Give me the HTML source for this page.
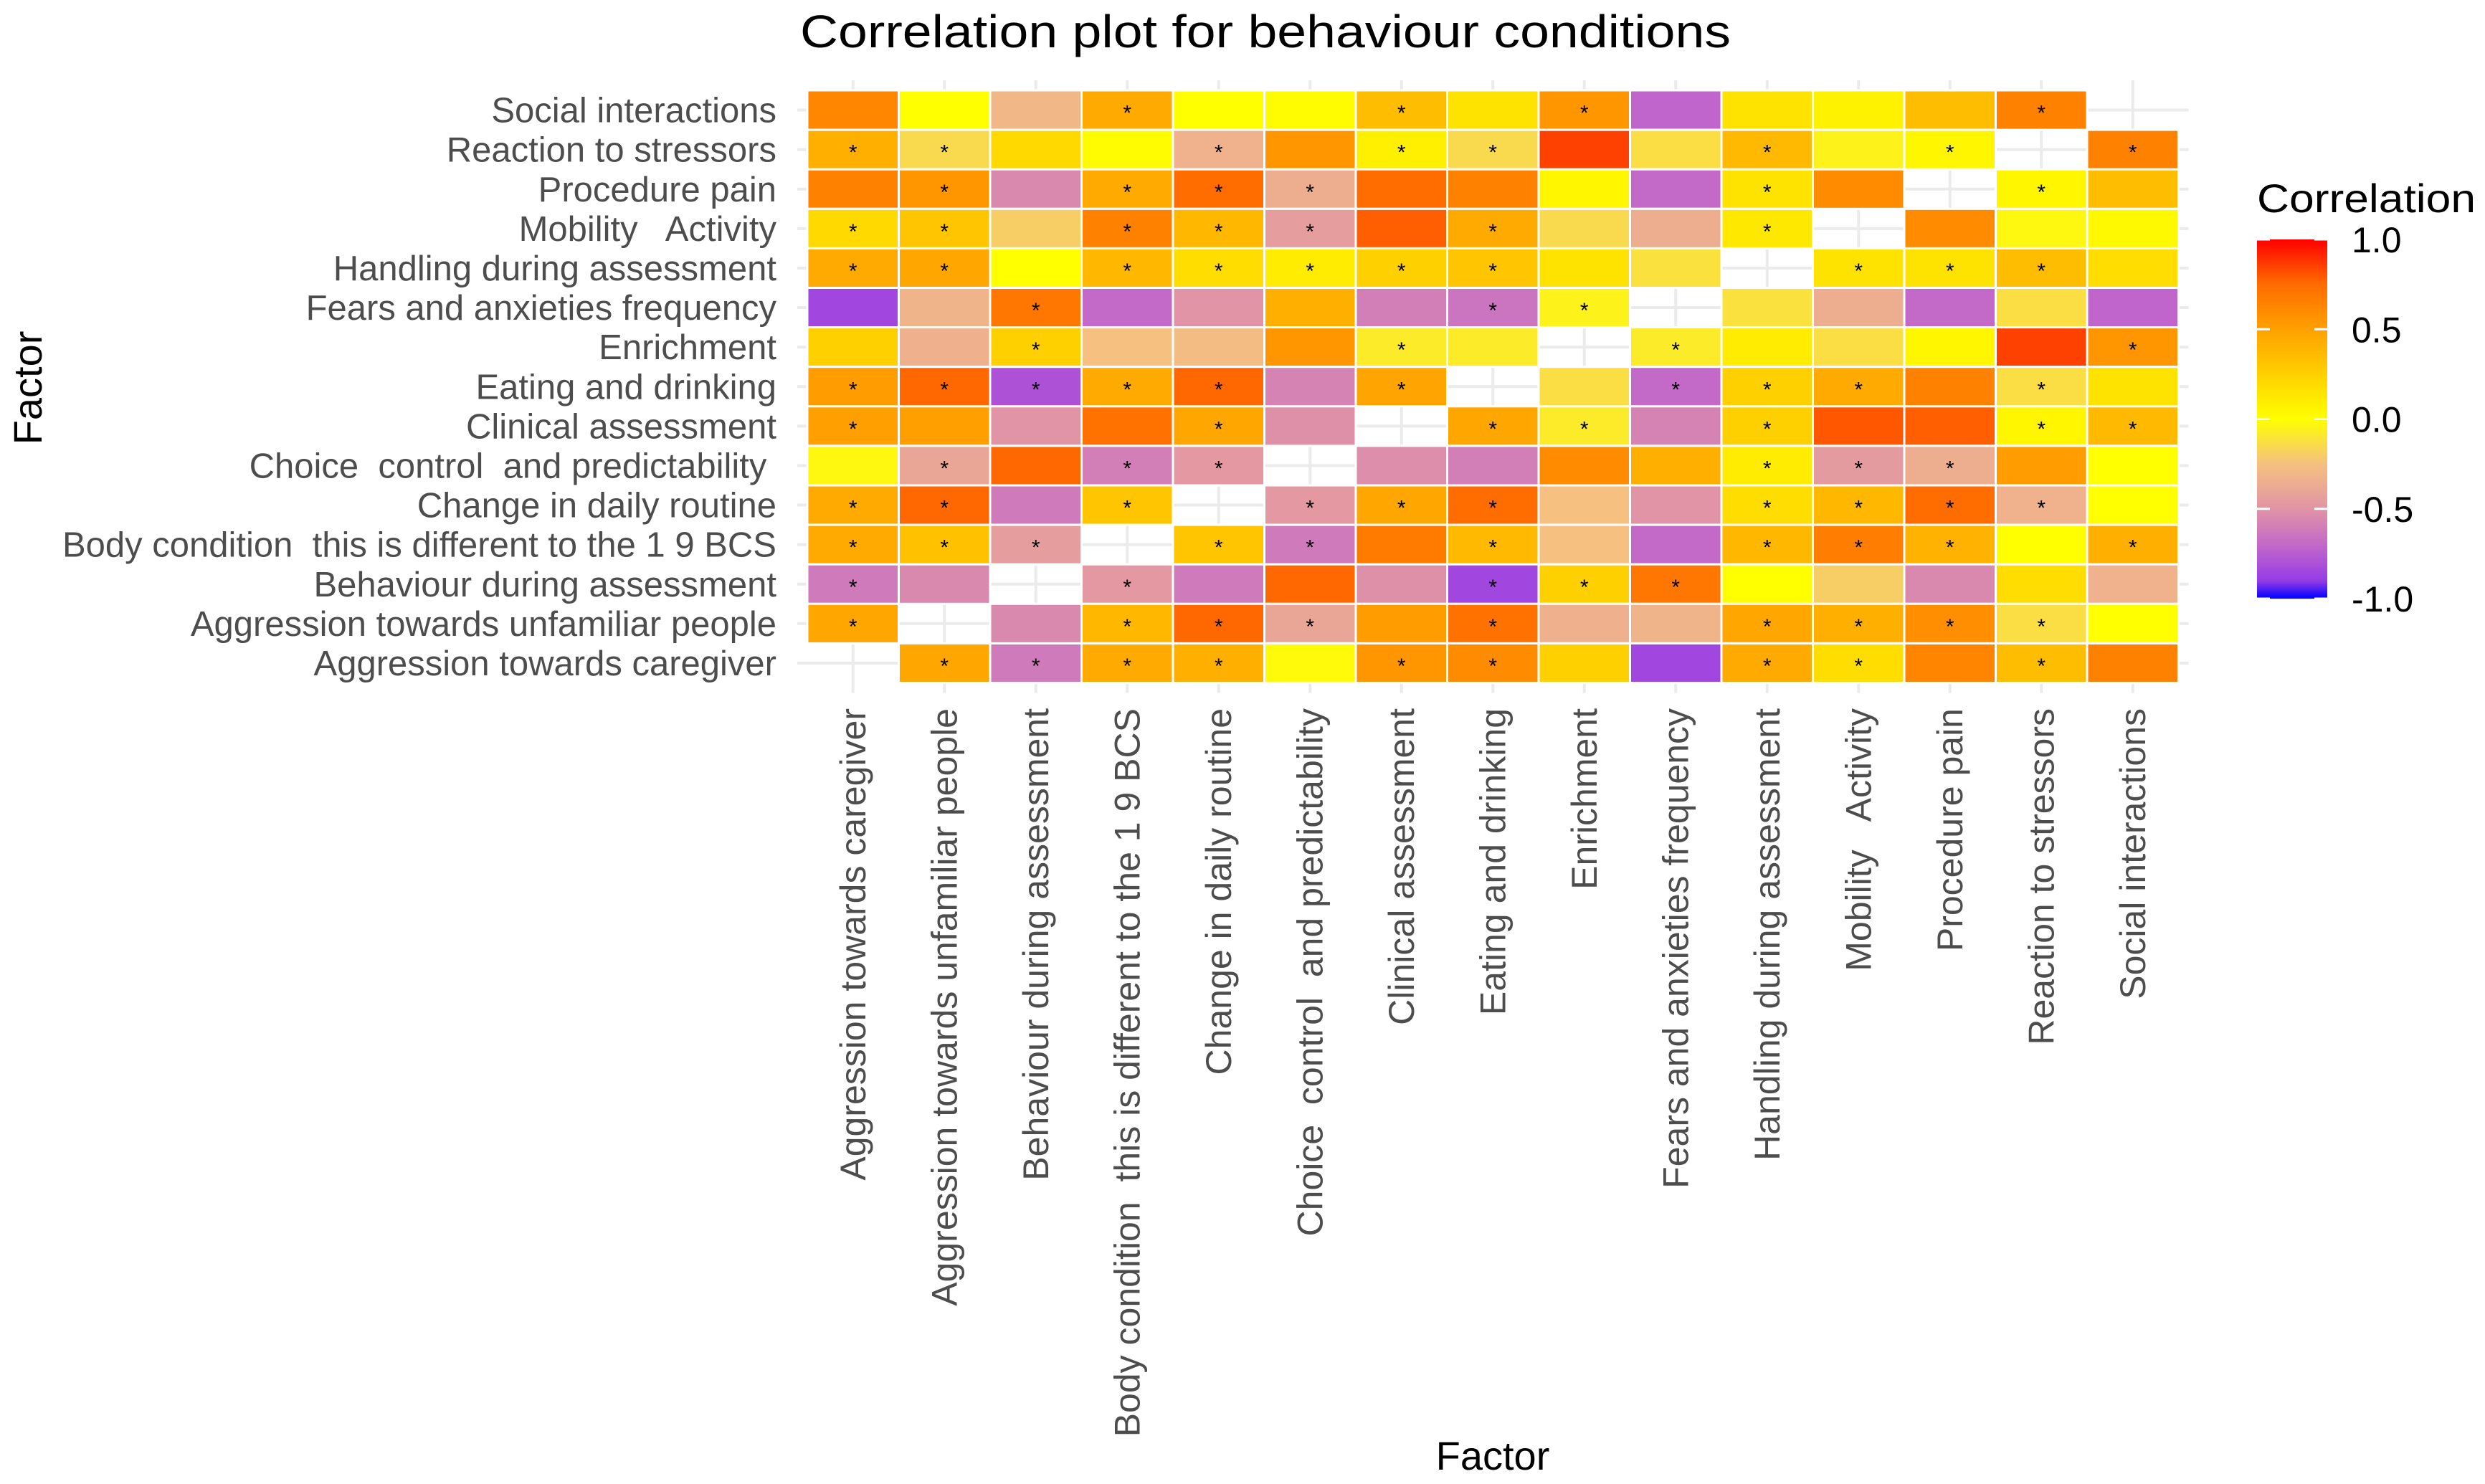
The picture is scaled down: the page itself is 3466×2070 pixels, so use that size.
<!DOCTYPE html>
<html><head><meta charset="utf-8"><style>
html,body{margin:0;padding:0;background:#fff;}
svg{display:block;font-family:"Liberation Sans",sans-serif;}
.pre{white-space:pre;}
</style></head><body>
<svg id="chart" width="3466" height="2070" viewBox="0 0 3466 2070" xmlns="http://www.w3.org/2000/svg">
<rect width="3466" height="2070" fill="#fff"/>
<text x="1116" y="66" font-size="64" fill="#000" textLength="1298" lengthAdjust="spacingAndGlyphs">Correlation plot for behaviour conditions</text>
<g id="grid"></g><g id="cells"></g><g id="ylabels"></g><g id="xlabels"></g>
<text x="2082" y="2050" font-size="56" text-anchor="middle" fill="#000">Factor</text>
<text transform="translate(58,541) rotate(-90)" font-size="56" text-anchor="middle" fill="#000">Factor</text>
<g>
<defs><linearGradient id="lg" x1="0" y1="1" x2="0" y2="0">
<stop offset="0" stop-color="#0000ff"/><stop offset="0.05" stop-color="#963ce6"/><stop offset="0.15" stop-color="#c369c8"/><stop offset="0.25" stop-color="#e194a5"/><stop offset="0.375" stop-color="#f5c080"/><stop offset="0.5" stop-color="#ffff00"/><stop offset="0.625" stop-color="#ffd000"/><stop offset="0.75" stop-color="#ffa000"/><stop offset="0.875" stop-color="#ff6c00"/><stop offset="1" stop-color="#ff0000"/>
</linearGradient></defs>
<text x="3148" y="296" font-size="56" fill="#000" textLength="305" lengthAdjust="spacingAndGlyphs">Correlation</text>
<rect x="3148" y="334" width="98" height="501" fill="url(#lg)"/>
<g id="legticks"></g>
</g>
</svg>
<script>
const rowLabels = ["Social interactions","Reaction to stressors","Procedure pain","Mobility   Activity","Handling during assessment","Fears and anxieties frequency","Enrichment","Eating and drinking","Clinical assessment","Choice  control  and predictability ","Change in daily routine","Body condition  this is different to the 1 9 BCS","Behaviour during assessment","Aggression towards unfamiliar people","Aggression towards caregiver"];
const colLabels = ["Aggression towards caregiver","Aggression towards unfamiliar people","Behaviour during assessment","Body condition  this is different to the 1 9 BCS","Change in daily routine","Choice  control  and predictability","Clinical assessment","Eating and drinking","Enrichment","Fears and anxieties frequency","Handling during assessment","Mobility   Activity","Procedure pain","Reaction to stressors","Social interactions"];
const rowSocial   = [0.62,0.0,-0.3,0.45,0.0,0.02,0.35,0.15,0.55,-0.72,0.15,0.07,0.35,0.65,null];
const rowReaction = [0.42,-0.15,0.2,0.02,-0.33,0.55,0.08,-0.15,0.85,-0.13,0.37,-0.05,0.05,null,0.65];
const rowPain     = [0.65,0.55,-0.55,0.45,0.75,-0.35,0.75,0.65,0.05,-0.7,0.15,0.6,null,0.05,0.35];
const rowMobility = [0.2,0.3,-0.2,0.65,0.38,-0.45,0.78,0.45,-0.15,-0.35,0.12,null,0.6,-0.03,0.03];
const rowHandling = [0.45,0.47,0.0,0.38,0.18,0.1,0.25,0.3,0.15,-0.12,null,0.15,0.15,0.35,0.18];
const rowFears    = [-0.85,-0.32,0.7,-0.7,-0.5,0.42,-0.6,-0.65,-0.05,null,-0.12,-0.35,-0.7,-0.13,-0.72];
const rowEnrich   = [0.25,-0.34,0.25,-0.25,-0.27,0.55,-0.08,-0.08,null,-0.08,0.1,-0.13,0.05,0.85,0.55];
const rowEating   = [0.52,0.76,-0.8,0.45,0.76,-0.58,0.48,null,-0.13,-0.7,0.25,0.45,0.65,-0.13,0.15];
const rowClinical = [0.5,0.5,-0.5,0.72,0.47,-0.52,null,0.47,-0.08,-0.58,0.25,0.8,0.78,0.05,0.37];
const rowChoice   = [-0.03,-0.4,0.76,-0.6,-0.48,null,-0.53,-0.6,0.6,0.42,0.1,-0.46,-0.35,0.52,0.0];
const rowChange   = [0.45,0.76,-0.62,0.3,null,-0.48,0.47,0.75,-0.25,-0.5,0.18,0.38,0.75,-0.33,0.0];
const rowBody     = [0.45,0.33,-0.45,null,0.3,-0.62,0.68,0.37,-0.25,-0.7,0.38,0.67,0.4,0.0,0.42];
const rowBehav    = [-0.62,-0.55,null,-0.48,-0.62,0.76,-0.52,-0.85,0.25,0.7,0.0,-0.2,-0.55,0.18,-0.33];
const rowAggUnf   = [0.47,null,-0.55,0.38,0.76,-0.4,0.52,0.72,-0.34,-0.32,0.47,0.42,0.58,-0.13,0.0];
const rowAggCare  = [null,0.47,-0.62,0.45,0.42,-0.02,0.55,0.6,0.25,-0.85,0.45,0.18,0.63,0.35,0.65];
const values = [rowSocial,rowReaction,rowPain,rowMobility,rowHandling,rowFears,rowEnrich,rowEating,rowClinical,rowChoice,rowChange,rowBody,rowBehav,rowAggUnf,rowAggCare];
const starSocial   = [0,0,0,1,0,0,1,0,1,0,0,0,0,1,0];
const starReaction = [1,1,0,0,1,0,1,1,0,0,1,0,1,0,1];
const starPain     = [0,1,0,1,1,1,0,0,0,0,1,0,0,1,0];
const starMobility = [1,1,0,1,1,1,0,1,0,0,1,0,0,0,0];
const starHandling = [1,1,0,1,1,1,1,1,0,0,0,1,1,1,0];
const starFears    = [0,0,1,0,0,0,0,1,1,0,0,0,0,0,0];
const starEnrich   = [0,0,1,0,0,0,1,0,0,1,0,0,0,0,1];
const starEating   = [1,1,1,1,1,0,1,0,0,1,1,1,0,1,0];
const starClinical = [1,0,0,0,1,0,0,1,1,0,1,0,0,1,1];
const starChoice   = [0,1,0,1,1,0,0,0,0,0,1,1,1,0,0];
const starChange   = [1,1,0,1,0,1,1,1,0,0,1,1,1,1,0];
const starBody     = [1,1,1,0,1,1,0,1,0,0,1,1,1,0,1];
const starBehav    = [1,0,0,1,0,0,0,1,1,1,0,0,0,0,0];
const starAggUnf   = [1,0,0,1,1,1,0,1,0,0,1,1,1,1,0];
const starAggCare  = [0,1,1,1,1,0,1,1,0,0,1,1,0,1,0];
const stars = [starSocial,starReaction,starPain,starMobility,starHandling,starFears,starEnrich,starEating,starClinical,starChoice,starChange,starBody,starBehav,starAggUnf,starAggCare];
const legendTicks = [1.0,0.5,0.0,-0.5,-1.0];
const legendTickLabels = ["1.0","0.5","0.0","-0.5","-1.0"];

const NS="http://www.w3.org/2000/svg";
const X0=1126, CW=127.5, Y0=126, RH=55.1;
function xPos(j){return X0+j*CW;}
function yPos(i){return Y0+i*RH;}
function legY(v){return 334+(1-v)/2*501;}
const stops=[[-1,[0,0,255]],[-0.9,[150,60,230]],[-0.7,[195,105,200]],[-0.5,[225,148,165]],[-0.25,[245,192,128]],[0,[255,255,0]],[0.25,[255,208,0]],[0.5,[255,160,0]],[0.75,[255,108,0]],[1,[255,0,0]]];
function colorOf(v){
  for(let k=0;k<stops.length-1;k++){
    const a=stops[k],b=stops[k+1];
    if(v<=b[0]){const t=(v-a[0])/(b[0]-a[0]);
      const c=a[1].map((x,i)=>Math.round(x+(b[1][i]-x)*t));
      return `rgb(${c[0]},${c[1]},${c[2]})`;}
  }
  return "rgb(255,0,0)";
}
function mk(tag,attrs,parent){const e=document.createElementNS(NS,tag);for(const k in attrs)e.setAttribute(k,attrs[k]);parent.appendChild(e);return e;}
const grid=document.getElementById('grid'),cells=document.getElementById('cells');
const yl=document.getElementById('ylabels'),xl=document.getElementById('xlabels');
const nR=rowLabels.length,nC=colLabels.length;
for(let j=0;j<nC;j++){
  const g=mk('line',{x1:xPos(j)+CW/2,x2:xPos(j)+CW/2,y1:Y0-14,y2:yPos(nR)+14,stroke:'#ebebeb','stroke-width':4},grid);
  
  
}
for(let i=0;i<nR;i++){
  const g=mk('line',{x1:X0-14,x2:xPos(nC)+14,y1:yPos(i)+RH/2,y2:yPos(i)+RH/2,stroke:'#ebebeb','stroke-width':4},grid);
  
  
}
for(let i=0;i<nR;i++){
  for(let j=0;j<nC;j++){
    const v=values[i][j];
    if(v===null||v===undefined) continue;
    const r=mk('rect',{x:xPos(j),y:yPos(i),width:CW,height:RH,fill:colorOf(v),stroke:'#fff','stroke-width':3},cells);
    
    
    if(stars[i][j]){
      const s=mk('text',{x:xPos(j)+CW/2,y:yPos(i)+RH/2+14,'font-size':30,'text-anchor':'middle',fill:'#000'},cells);
      s.textContent='*';
      
      
    }
  }
  const t=mk('text',{x:1083,y:yPos(i)+RH/2+17,'font-size':49,'text-anchor':'end',fill:'#4d4d4d','class':'pre'},yl);
  t.textContent=rowLabels[i];
  
  
}
for(let j=0;j<nC;j++){
  const cx=xPos(j)+CW/2+17;
  const t=mk('text',{transform:`translate(${cx},988) rotate(-90)`,'font-size':50,'text-anchor':'end',fill:'#4d4d4d','class':'pre'},xl);
  t.textContent=colLabels[j];
  
  
}
const lt=document.getElementById('legticks');
legendTicks.forEach((v,k)=>{
  const y=legY(v);
  const a=mk('line',{x1:3148,x2:3166,y1:y,y2:y,stroke:'#fff','stroke-width':3},lt);
  
  
  const b=mk('line',{x1:3228,x2:3246,y1:y,y2:y,stroke:'#fff','stroke-width':3},lt);
  
  
  const t=mk('text',{x:3280,y:y+18,'font-size':50,fill:'#000'},lt);
  t.textContent=legendTickLabels[k];
  
  
});
</script>
</body></html>
